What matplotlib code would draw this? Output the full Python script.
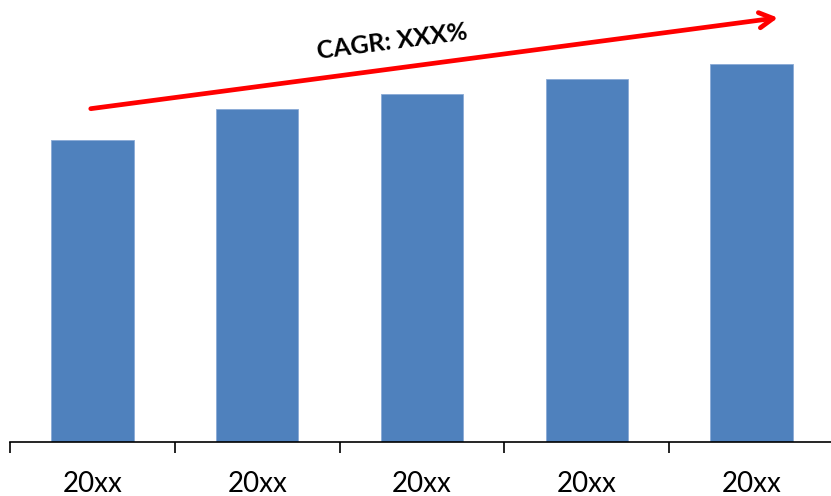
import matplotlib
matplotlib.use("Agg")
import matplotlib.pyplot as plt
from matplotlib.ticker import FixedLocator

categories = ["20xx", "20xx", "20xx", "20xx", "20xx"]
values = [80, 88, 92, 96, 100]
cagr_label = "CAGR: XXX%"

plt.rcParams['font.family'] = ['Lato', 'DejaVu Sans']

fig = plt.figure(figsize=(8.31, 4.96), dpi=100)
ax = fig.add_axes([10/831, 54.5/496, 824/831, 441.5/496])

x = list(range(len(categories)))
ax.bar(x, values, width=0.5, color='#4F81BD', edgecolor='#8AAAD6', linewidth=0.6)

ax.set_xlim(-0.5, len(categories) - 0.5)
ax.set_ylim(0, 117)

for s in ['top', 'right', 'left']:
    ax.spines[s].set_visible(False)
ax.spines['bottom'].set_color('black')
ax.spines['bottom'].set_linewidth(1.2)
ax.yaxis.set_visible(False)

ax.set_xticks(x)
ax.set_xticklabels(categories, fontsize=20)
ax.tick_params(axis='x', which='major', length=0, pad=21)
ax.xaxis.set_minor_locator(FixedLocator([i - 0.5 for i in range(len(categories) + 1)]))
ax.tick_params(axis='x', which='minor', length=8, width=1.2, color='black')

ax.annotate('', xy=(4.16, 112.3), xytext=(-0.01, 88.2),
            arrowprops=dict(arrowstyle='->,head_length=1.0,head_width=0.55',
                            color='#FF0000', lw=3.4, shrinkA=0, shrinkB=0),
            annotation_clip=False)
ax.text(1.82, 106.0, cagr_label, fontsize=18, fontweight='bold',
        rotation=7.5, ha='center', va='center', rotation_mode='anchor')

fig.savefig('out.png', dpi=100)
